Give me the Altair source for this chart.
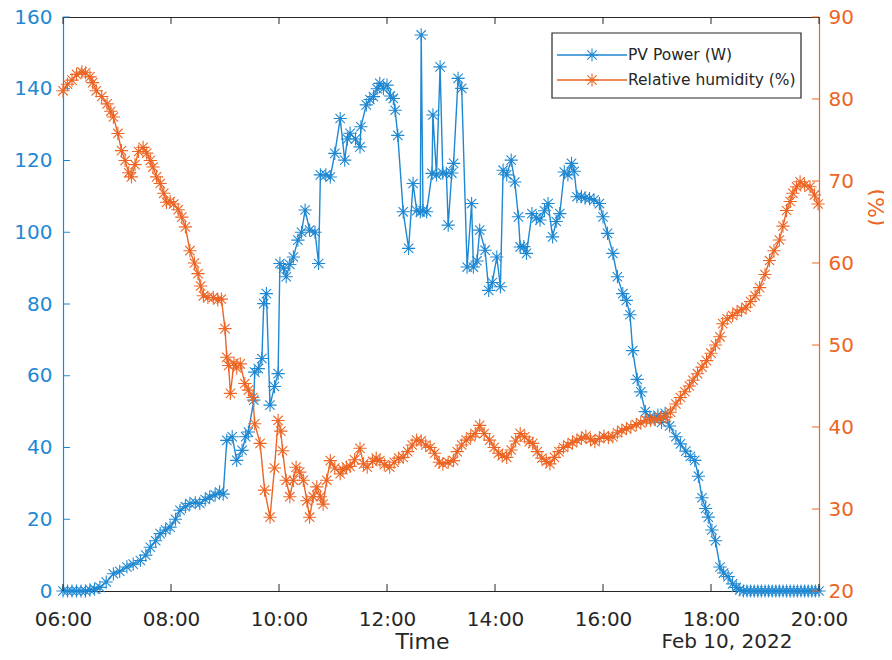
import altair as alt
import pandas as pd

# ---------------- data ----------------
PV = [("06:00",0),("06:05",0),("06:10",0),("06:15",0),("06:20",0),("06:25",0),("06:30",0.3),("06:35",0.5),
      ("06:41",1.0),("06:48",2.5),("06:56",4.8),("07:03",5.5),("07:11",6.7),("07:18",7.5),("07:26",8.5),
      ("07:32",10.0),("07:37",12.2),("07:43",14.0),("07:48",16.0),("07:54",17.0),("07:59",17.8),("08:05",20.0),
      ("08:10",22.5),("08:16",23.5),("08:21",24.4),("08:27",24.6),("08:32",24.4),("08:38",25.5),("08:43",26.2),
      ("08:49",26.8),("08:54",27.6),("08:58",27.0),("09:02",42.0),("09:08",43.0),("09:13",36.4),("09:19",39.2),
      ("09:23",43.0),("09:26",44.3),("09:32",53.2),("09:33",61.0),("09:37",62.0),("09:41",64.8),("09:43",80.1),
      ("09:46",82.9),("09:50",51.8),("09:55",57.0),("09:59",60.6),("10:01",91.3),("10:05",90.0),("10:08",87.6),
      ("10:12",91.0),("10:16",93.1),("10:21",97.8),("10:25",100.0),("10:29",106.2),("10:34",100.6),("10:40",100.0),
      ("10:44",91.3),("10:46",116.0),("10:52",116.0),("10:57",115.4),("11:02",122.0),("11:08",131.7),("11:13",120.1),
      ("11:16",126.0),("11:19",127.6),("11:25",126.0),("11:30",123.8),("11:31",129.4),("11:37",135.5),("11:41",137.0),
      ("11:45",137.8),("11:49",140.0),("11:52",141.5),("11:56",140.0),("12:00",141.0),("12:04",138.0),("12:07",137.3),
      ("12:09",134.0),("12:12",127.0),("12:18",105.7),("12:24",95.5),("12:29",113.6),("12:33",106.0),("12:37",105.7),
      ("12:38",155.0),("12:40",106.0),("12:44",105.7),("12:50",116.4),("12:51",132.7),("12:55",116.0),("12:59",146.1),
      ("13:02",116.5),("13:06",116.4),("13:08",102.0),("13:12",116.5),("13:14",119.2),("13:19",142.9),("13:23",140.1),
      ("13:29",90.3),("13:34",108.0),("13:36",90.3),("13:40",92.0),("13:43",100.6),("13:49",95.0),("13:53",83.8),
      ("13:57",86.0),("14:02",93.1),("14:06",84.8),("14:09",117.3),("14:13",116.0),("14:18",120.1),("14:22",114.0),
      ("14:26",104.3),("14:28",95.9),("14:32",96.0),("14:35",94.1),("14:41",105.2),("14:46",104.0),("14:50",103.4),
      ("14:55",106.0),("14:59",108.0),("15:04",98.7),("15:08",103.0),("15:12",105.2),("15:17",116.8),("15:21",116.0),
      ("15:25",119.2),("15:28",117.0),("15:31",109.9),("15:36",110.0),("15:40",109.5),("15:45",109.4),("15:50",109.0),
      ("15:56",108.0),("16:00",104.3),("16:05",99.7),("16:11",94.1),("16:16",87.6),("16:22",82.9),("16:26",81.0),
      ("16:30",77.0),("16:33",67.0),("16:38",59.0),("16:42",55.5),("16:47",50.0),("16:52",48.5),("16:57",48.0),
      ("17:01",49.0),("17:05",47.0),("17:09",49.5),("17:14",46.0),("17:21",43.0),("17:26",41.0),("17:32",39.0),
      ("17:37",37.5),("17:42",36.4),("17:46",32.0),("17:50",26.0),("17:54",23.0),("17:57",20.6),("18:01",17.0),
      ("18:05",14.0),("18:10",6.7),("18:14",5.0),("18:19",4.0),("18:24",2.0),("18:28",1.0),("18:32",0.3),
      ("18:36",0),("18:40",0),("18:44",0),("18:48",0),("18:52",0),("18:56",0),("19:00",0),("19:04",0),("19:08",0),
      ("19:12",0),("19:16",0),("19:20",0),("19:24",0),("19:28",0),("19:32",0),("19:36",0),("19:40",0),("19:44",0),
      ("19:48",0),("19:52",0),("19:56",0),("20:00",0)]

RH = [("06:00",81.0),("06:05",81.8),("06:10",82.3),("06:15",83.0),("06:21",83.3),("06:25",83.2),("06:30",82.7),
      ("06:33",82.0),("06:37",81.0),("06:43",80.3),("06:49",79.4),("06:53",78.5),("06:56",77.8),("07:01",75.8),
      ("07:05",73.7),("07:09",72.5),("07:13",71.0),("07:16",70.5),("07:20",72.0),("07:24",73.6),("07:29",74.1),
      ("07:33",73.4),("07:37",72.5),("07:40",71.7),("07:44",70.5),("07:48",69.7),("07:52",68.5),("07:55",67.4),
      ("07:59",67.5),("08:03",67.2),("08:08",66.5),("08:12",65.6),("08:16",64.4),("08:21",61.5),("08:26",60.0),
      ("08:30",58.7),("08:33",57.2),("08:36",56.0),("08:41",55.8),("08:47",55.8),("08:52",55.5),("08:56",55.6),
      ("09:00",52.0),("09:02",48.5),("09:04",47.5),("09:06",44.1),("09:10",47.8),("09:13",47.2),("09:17",47.7),
      ("09:22",45.3),("09:26",44.5),("09:31",43.6),("09:33",40.4),("09:39",38.0),("09:44",32.3),("09:50",29.0),
      ("09:55",35.0),("09:59",40.8),("10:02",39.5),("10:04",37.1),("10:08",33.5),("10:12",31.5),("10:16",33.5),
      ("10:19",35.1),("10:23",34.5),("10:27",33.5),("10:31",31.0),("10:34",29.0),("10:38",31.5),("10:42",32.7),
      ("10:46",31.5),("10:49",30.6),("10:53",33.5),("10:57",35.9),("11:02",35.0),("11:08",34.3),("11:11",34.8),
      ("11:15",35.1),("11:19",35.2),("11:24",36.0),("11:30",37.4),("11:34",35.5),("11:38",35.1),("11:44",35.8),
      ("11:48",36.2),("11:52",35.9),("11:57",35.4),("12:03",35.1),("12:08",35.7),("12:13",36.2),("12:18",36.3),
      ("12:23",37.0),("12:28",37.8),("12:33",38.4),("12:38",38.3),("12:43",37.8),("12:48",37.5),("12:53",36.8),
      ("12:58",35.7),("13:02",35.5),("13:08",35.7),("13:14",35.9),("13:18",37.0),("13:23",37.8),("13:28",38.4),
      ("13:33",38.8),("13:38",39.2),("13:43",40.2),("13:48",39.2),("13:54",38.4),("13:59",37.5),("14:04",36.8),
      ("14:08",36.5),("14:13",36.3),("14:18",37.2),("14:23",38.3),("14:28",39.2),("14:33",38.8),("14:38",38.2),
      ("14:42",38.0),("14:47",37.0),("14:52",36.2),("14:57",35.8),("15:01",35.5),("15:06",36.3),("15:11",37.0),
      ("15:16",37.5),("15:21",37.8),("15:26",38.1),("15:31",38.4),("15:36",38.6),("15:41",38.9),("15:46",38.5),
      ("15:51",38.2),("15:56",38.6),("16:01",38.9),("16:06",38.7),("16:11",38.8),("16:16",39.3),("16:21",39.6),
      ("16:26",39.8),("16:31",40.0),("16:37",40.3),("16:42",40.5),("16:48",40.8),("16:53",40.8),("16:58",40.9),
      ("17:04",41.1),("17:10",41.2),("17:15",41.8),("17:21",42.8),("17:26",43.6),("17:31",44.3),("17:36",45.0),
      ("17:40",45.7),("17:45",46.5),("17:50",47.3),("17:55",48.1),("18:00",49.0),("18:05",50.0),("18:10",51.0),
      ("18:13",52.6),("18:18",53.2),("18:24",53.6),("18:29",54.0),("18:34",54.3),("18:39",54.6),("18:44",55.3),
      ("18:49",56.0),("18:54",57.0),("19:00",58.6),("19:05",60.3),("19:10",61.5),("19:16",62.8),("19:20",64.5),
      ("19:24",66.4),("19:28",67.5),("19:31",68.5),("19:35",69.3),("19:39",69.9),("19:44",69.5),("19:50",69.3),
      ("19:55",68.3),("19:59",67.2)]

SERIES = ["PV Power (W)", "Relative humidity (%)"]
COLORS = ["#1f88d2", "#ec6524"]
X_TICKS = [6, 8, 10, 12, 14, 16, 18, 20]
PV_TICKS = [0, 20, 40, 60, 80, 100, 120, 140, 160]
RH_TICKS = [20, 30, 40, 50, 60, 70, 80, 90]
X_TITLE = "Time"
RIGHT_TITLE = "(%)"
DATE_LABEL = "Feb 10, 2022"

# ---------------- tables ----------------
def hours(t):
    return int(t[:2]) + int(t[3:]) / 60.0

pv_df = pd.DataFrame({"h": [hours(t) for t, _ in PV], "PV": [v for _, v in PV]})
rh_df = pd.DataFrame({"h": [hours(t) for t, _ in RH], "RH": [v for _, v in RH]})
xt_df = pd.DataFrame({"h": X_TICKS})
pvt_df = pd.DataFrame({"PV": PV_TICKS})
rht_df = pd.DataFrame({"RH": RH_TICKS})
one = pd.DataFrame({"k": [0]})

FONT = "DejaVu Sans"
INK = "#262626"
BLUE, ORANGE = COLORS
ASTER = "M-1,0L1,0M0,-1L0,1M-0.71,-0.71L0.71,0.71M-0.71,0.71L0.71,-0.71"
MSIZE = 175
W, H = 756, 574

x_scale = alt.Scale(domain=[6, 20], nice=False, zero=False)
pv_scale = alt.Scale(domain=[0, 160], nice=False, zero=False)
rh_scale = alt.Scale(domain=[20, 90], nice=False, zero=False)

x_axis = alt.Axis(values=X_TICKS, labelExpr="(datum.value < 10 ? '0' : '') + datum.value + ':00'",
                  title=X_TITLE, labelColor=INK, domainColor=INK, labelBaseline="alphabetic",
                  labelPadding=34, titleX=359, titleY=57, titleBaseline="alphabetic", titleAlign="center")
pv_axis = alt.Axis(values=PV_TICKS, orient="left", title=None, labelColor=BLUE, domainColor=BLUE,
                   labelPadding=11)
rh_axis = alt.Axis(values=RH_TICKS, orient="right", title=RIGHT_TITLE, titleColor=ORANGE, titleAngle=270,
                   titleX=57, titleY=190, titleAlign="center", titleBaseline="middle",
                   labelColor=ORANGE, domainColor=ORANGE, labelPadding=9)

# ---------------- PV series ----------------
pv_line = alt.Chart(pv_df).mark_line(color=BLUE, strokeWidth=1.4).encode(
    x=alt.X("h:Q", scale=x_scale, axis=x_axis),
    y=alt.Y("PV:Q", scale=pv_scale, axis=pv_axis))
pv_pts = alt.Chart(pv_df).mark_point(shape=ASTER, size=MSIZE, color=BLUE, filled=False,
                                     strokeWidth=1.1, opacity=1).encode(
    x=alt.X("h:Q", scale=x_scale, axis=None),
    y=alt.Y("PV:Q", scale=pv_scale, axis=None))
pv_ticks = alt.Chart(pvt_df).mark_rule(color=BLUE, strokeWidth=1).encode(
    x=alt.value(0), x2=alt.value(7),
    y=alt.Y("PV:Q", scale=pv_scale, axis=None))

# ---------------- RH series ----------------
rh_line = alt.Chart(rh_df).mark_line(color=ORANGE, strokeWidth=1.4).encode(
    x=alt.X("h:Q", scale=x_scale, axis=None),
    y=alt.Y("RH:Q", scale=rh_scale, axis=rh_axis))
rh_pts = alt.Chart(rh_df).mark_point(shape=ASTER, size=MSIZE, color=ORANGE, filled=False,
                                     strokeWidth=1.1, opacity=1).encode(
    x=alt.X("h:Q", scale=x_scale, axis=None),
    y=alt.Y("RH:Q", scale=rh_scale, axis=None))
rh_ticks = alt.Chart(rht_df).mark_rule(color=ORANGE, strokeWidth=1).encode(
    x=alt.value(W - 7), x2=alt.value(W),
    y=alt.Y("RH:Q", scale=rh_scale, axis=None))

# ---------------- inward x ticks ----------------
xt_bottom = alt.Chart(xt_df).mark_rule(color=INK, strokeWidth=1).encode(
    x=alt.X("h:Q", scale=x_scale, axis=None), y=alt.value(H - 7), y2=alt.value(H))
xt_top = alt.Chart(xt_df).mark_rule(color=INK, strokeWidth=1).encode(
    x=alt.X("h:Q", scale=x_scale, axis=None), y=alt.value(0), y2=alt.value(7))

# ---------------- legend ----------------
legend_layers = [alt.Chart(one).mark_rect(fill="white", stroke=INK, strokeWidth=1.2).encode(
    x=alt.value(489), x2=alt.value(738), y=alt.value(16), y2=alt.value(81))]
for i, (name, col) in enumerate(zip(SERIES, COLORS)):
    ry = 38 + 25 * i
    legend_layers.append(alt.Chart(one).mark_rule(color=col, strokeWidth=1.4).encode(
        x=alt.value(494), x2=alt.value(564), y=alt.value(ry)))
    legend_layers.append(alt.Chart(one).mark_point(shape=ASTER, size=MSIZE, color=col, filled=False,
                                                   strokeWidth=1.1, opacity=1).encode(
        x=alt.value(529), y=alt.value(ry)))
    legend_layers.append(alt.Chart(one).mark_text(align="left", baseline="middle", font=FONT,
                                                  fontSize=15.5, color=INK).encode(
        x=alt.value(565), y=alt.value(ry), text=alt.value(name)))

date_text = alt.Chart(one).mark_text(align="center", baseline="alphabetic", font=FONT,
                                     fontSize=20, color=INK).encode(
    x=alt.value(664), y=alt.value(631), text=alt.value(DATE_LABEL))

chart = alt.layer(
    pv_line, pv_pts, pv_ticks, rh_line, rh_pts, rh_ticks, xt_bottom, xt_top, *legend_layers, date_text
).resolve_scale(
    y="independent"
).resolve_axis(
    x="independent", y="independent"
).properties(
    width=W, height=H,
    padding={"left": 55, "top": 9, "right": 65, "bottom": 61},
    autosize=alt.AutoSizeParams(type="none"),
    background="white",
).configure_view(
    stroke=INK, strokeWidth=1
).configure_axis(
    labelFont=FONT, labelFontSize=20, titleFont=FONT, titleFontSize=22, titleFontWeight="normal",
    titleColor=INK, grid=False, ticks=False, tickSize=0, domainWidth=1.2,
    labelFlush=False, labelOverlap=False
)

chart.save("out.html", embed_options={"renderer": "svg", "actions": False})
